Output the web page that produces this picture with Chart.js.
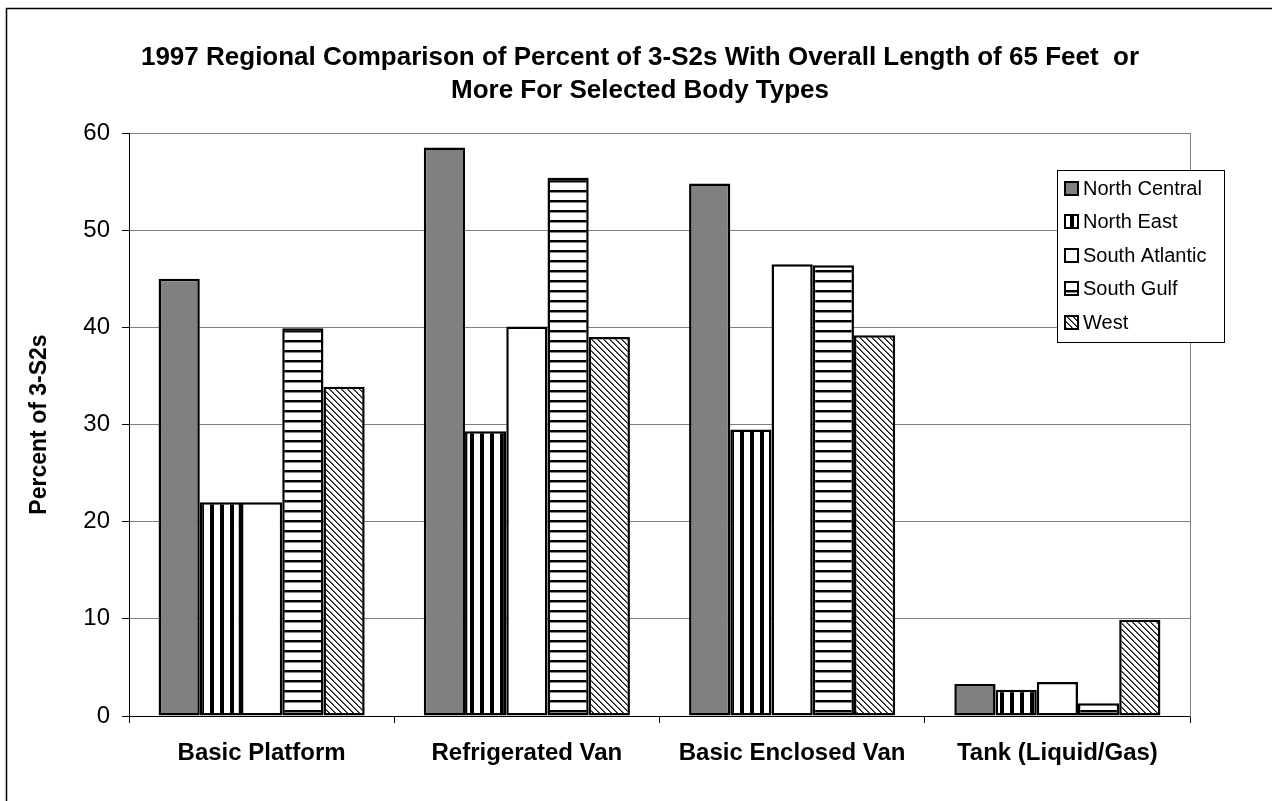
<!DOCTYPE html>
<html>
<head>
<meta charset="utf-8">
<script src="https://cdn.jsdelivr.net/npm/chart.js@4/dist/chart.umd.min.js"></script>
<style>
  html, body { margin: 0; padding: 0; background: #fff; }
  #wrap { width: 1272px; height: 801px; position: relative; }
</style>
</head>
<body>
<div id="wrap"><canvas id="c" width="1272" height="801"></canvas></div>
<script>
// Body types on the x axis
const categories = ['Basic Platform', 'Refrigerated Van', 'Basic Enclosed Van', 'Tank (Liquid/Gas)'];

// Percent of 3-S2s with overall length of 65 feet or more, by region
const northCentral  = [45.0, 58.5, 54.8, 3.3];
const northEast     = [22.0, 29.3, 29.5, 2.7];
const southAtlantic = [22.0, 40.1, 46.5, 3.5];
const southGulf     = [39.9, 55.4, 46.4, 1.3];
const west          = [33.9, 39.0, 39.2, 9.9];

const regionNames = ['North Central', 'North East', 'South Atlantic', 'South Gulf', 'West'];

// Y axis range and step
const yMin = 0, yMax = 60, yStep = 10;

const titleLines = [
  '1997 Regional Comparison of Percent of 3-S2s With Overall Length of 65 Feet  or',
  'More For Selected Body Types'
];
const yTitle = 'Percent of 3-S2s';

const FONT = "'Liberation Sans', Arial, Helvetica, sans-serif";

const canvas = document.getElementById('c');
const ctx = canvas.getContext('2d');

// Fill patterns for the bars
function makePattern(w, h, draw) {
  const c = document.createElement('canvas');
  c.width = w; c.height = h;
  const g = c.getContext('2d');
  g.fillStyle = '#fff';
  g.fillRect(0, 0, w, h);
  draw(g, w, h);
  return ctx.createPattern(c, 'repeat');
}
const vStripes = makePattern(10, 10, (g, w, h) => {
  g.fillStyle = '#000';
  g.fillRect(0, 0, 4, h);
});
const hStripes = makePattern(10, 10, (g, w) => {
  g.fillStyle = '#000';
  g.fillRect(0, 0, w, 2);
  g.fillStyle = '#888';
  g.fillRect(0, 2, w, 1);
});
const diagHatch = makePattern(6, 6, (g) => {
  for (let i = 0; i < 6; i++) {
    g.fillStyle = '#111';
    g.fillRect(i, i, 1, 1);
    g.fillStyle = '#666';
    g.fillRect((i + 1) % 6, i, 1, 1);
  }
});

const fills = ['#808080', vStripes, '#ffffff', hStripes, diagHatch];
const series = [northCentral, northEast, southAtlantic, southGulf, west];

// Page frame drawn behind the chart
const framePlugin = {
  id: 'frame',
  beforeDraw(chart) {
    const c = chart.ctx;
    c.save();
    c.fillStyle = '#fff';
    c.fillRect(0, 0, chart.width, chart.height);
    c.strokeStyle = '#000';
    c.lineWidth = 1.5;
    c.beginPath();
    c.moveTo(6.5, chart.height + 2);
    c.lineTo(6.5, 8.5);
    c.lineTo(chart.width + 2, 8.5);
    c.stroke();
    c.restore();
  }
};

// Boxed legend inside the plot area
const legendBox = { left: 1057, top: 170, right: 1224, bottom: 342, firstRow: 188, rowGap: 33.5, swatch: 15, textX: 1083 };
const boxLegendPlugin = {
  id: 'boxLegend',
  afterDraw(chart) {
    const c = chart.ctx;
    const b = legendBox;
    c.save();
    c.fillStyle = '#fff';
    c.fillRect(b.left, b.top, b.right - b.left, b.bottom - b.top);
    c.strokeStyle = '#000';
    c.lineWidth = 1;
    c.strokeRect(b.left + 0.5, b.top + 0.5, b.right - b.left, b.bottom - b.top);
    chart.data.datasets.forEach((ds, i) => {
      const cy = b.firstRow + i * b.rowGap;
      const sx = b.left + 7, sy = Math.round(cy - b.swatch / 2);
      c.fillStyle = ds.backgroundColor;
      c.fillRect(sx, sy, b.swatch, b.swatch);
      c.strokeStyle = '#000';
      c.lineWidth = 2;
      c.strokeRect(sx + 1, sy + 1, b.swatch - 2, b.swatch - 2);
      c.fillStyle = '#000';
      c.font = '20px ' + FONT;
      c.textBaseline = 'middle';
      c.textAlign = 'left';
      c.fillText(ds.label, b.textX, cy + 1);
    });
    c.restore();
  }
};

new Chart(canvas, {
  type: 'bar',
  data: {
    labels: categories,
    datasets: regionNames.map((name, i) => ({
      label: name,
      data: series[i],
      backgroundColor: fills[i],
      borderColor: '#000',
      borderWidth: 2.5,
      borderSkipped: false,
      categoryPercentage: 0.777,
      barPercentage: 1.0
    }))
  },
  options: {
    responsive: false,
    animation: false,
    layout: { padding: { left: 8, right: 0, top: 0, bottom: 0 } },
    plugins: {
      legend: { display: false },
      tooltip: { enabled: false },
      title: {
        display: true,
        text: titleLines,
        color: '#000',
        font: { family: FONT, size: 26, weight: 'bold', lineHeight: 1.27 },
        padding: { top: 41, bottom: 26 }
      }
    },
    scales: {
      x: {
        grid: { display: true, drawOnChartArea: false, offset: true, tickLength: 7, color: '#000', tickColor: '#000' },
        border: { display: true, color: '#000', width: 1 },
        ticks: { color: '#000', font: { family: FONT, size: 24, weight: 'bold' }, padding: 16, maxRotation: 0, autoSkip: false },
        afterFit(s) { s.height = 85; }
      },
      y: {
        min: yMin, max: yMax,
        ticks: { stepSize: yStep, color: '#000', font: { family: FONT, size: 24 }, padding: 12 },
        grid: {
          color: (c) => (c.tick && c.tick.value === 0 ? '#000' : '#808080'),
          tickLength: 7, tickColor: '#000', lineWidth: 1
        },
        border: { display: true, color: '#000', width: 1 },
        title: { display: true, text: yTitle, color: '#000', font: { family: FONT, size: 23, weight: 'bold' }, padding: { top: 18, bottom: 0 } },
        afterFit(s) { s.width = 121; }
      },
      y2: {
        position: 'right',
        display: true,
        grid: { display: false, drawTicks: false },
        ticks: { display: false },
        border: { display: true, color: '#808080', width: 1 },
        afterFit(s) { s.width = 82; }
      }
    }
  },
  plugins: [framePlugin, boxLegendPlugin]
});
</script>
</body>
</html>
